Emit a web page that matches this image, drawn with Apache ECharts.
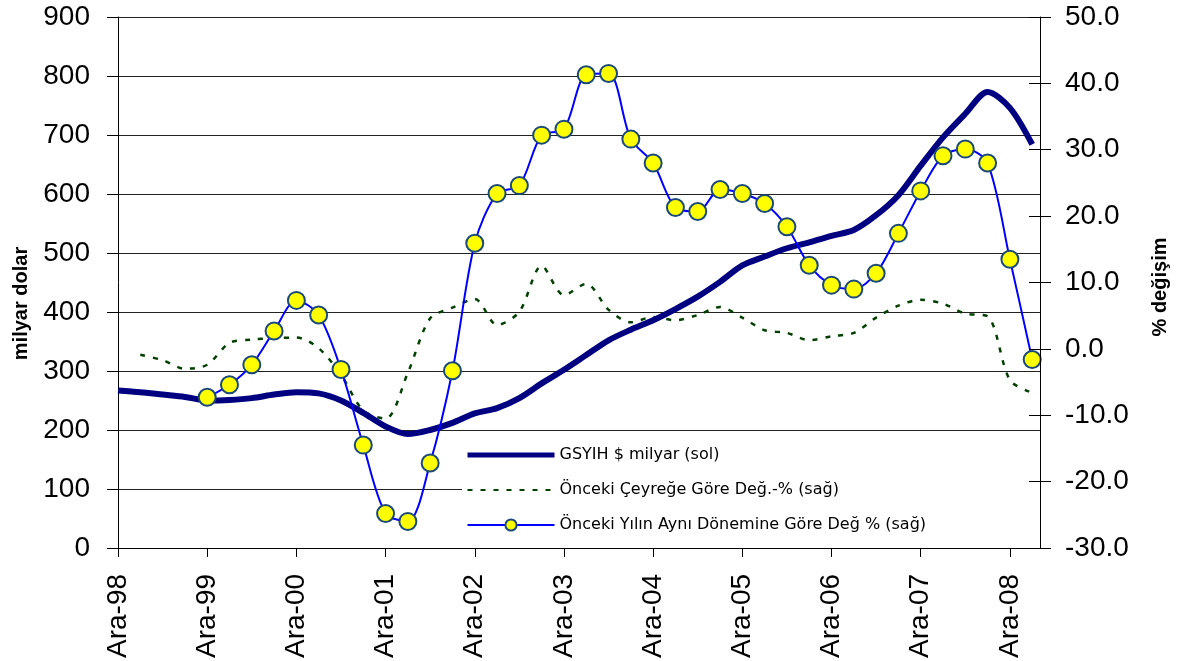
<!DOCTYPE html>
<html>
<head>
<meta charset="utf-8">
<script src="https://cdn.jsdelivr.net/npm/echarts@6/dist/echarts.min.js"></script>
<style>
html,body{margin:0;padding:0;background:#fff;}
#chart{width:1178px;height:661px;}
</style>
</head>
<body>
<div id="chart"></div>
<script>
// Quarterly categories (Ara = December)
const quarters = ['Ara-98','Mar-99','Haz-99','Eyl-99','Ara-99','Mar-00','Haz-00','Eyl-00','Ara-00','Mar-01','Haz-01','Eyl-01','Ara-01','Mar-02','Haz-02','Eyl-02','Ara-02','Mar-03','Haz-03','Eyl-03','Ara-03','Mar-04','Haz-04','Eyl-04','Ara-04','Mar-05','Haz-05','Eyl-05','Ara-05','Mar-06','Haz-06','Eyl-06','Ara-06','Mar-07','Haz-07','Eyl-07','Ara-07','Mar-08','Haz-08','Eyl-08','Ara-08','Mar-09'];
// Tick labels shown on the x axis
const xTickLabels = ['Ara-98','Ara-99','Ara-00','Ara-01','Ara-02','Ara-03','Ara-04','Ara-05','Ara-06','Ara-07','Ara-08'];
// GSYIH $ milyar (sol)
const gdp = [267,264,260,256,250,251,254,260,264,262,250,229,206,193,200,212,228,237,254,279,302,327,352,370,386,405,426,451,479,494,508,518,529,539,564,598,648,696,736,773,746,684];
// Önceki Çeyreğe Göre Değ.-% (sağ)
const qoq = [null,-0.9,-1.7,-3.0,-2.4,0.9,1.4,1.6,1.7,0.1,-3.9,-9.3,-10.5,-3.6,4.6,6.2,7.5,3.6,5.6,12.5,8.1,9.8,5.9,4.0,4.8,4.3,5.1,6.3,4.7,2.8,2.4,1.3,1.9,2.4,4.7,6.5,7.4,6.8,5.3,4.9,-4.7,-6.6];
// Önceki Yılın Aynı Dönemine Göre Değ % (sağ)
const yoy = [null,null,null,null,-7.3,-5.4,-2.4,2.7,7.3,5.1,-3.1,-14.5,-24.8,-26.0,-17.2,-3.3,15.9,23.4,24.6,32.2,33.1,41.3,41.5,31.6,28.0,21.3,20.7,24.0,23.4,21.9,18.4,12.6,9.6,9.0,11.4,17.4,23.8,29.1,30.1,28.0,13.5,-1.6];
const seriesNames = ['GSYIH $ milyar (sol)','Önceki Çeyreğe Göre Değ.-% (sağ)','Önceki Yılın Aynı Dönemine Göre Değ % (sağ)'];

const tickPositions = xTickLabels.map(l => quarters.indexOf(l));
const toPairs = arr => quarters.map((q, i) => [i, arr[i]]);

const font = '"Liberation Sans", Arial, sans-serif';
const chart = echarts.init(document.getElementById('chart'), null, {renderer: 'canvas'});
chart.setOption({
  animation: false,
  backgroundColor: '#ffffff',
  textStyle: {fontFamily: font},
  grid: {left: 118, right: 136, top: 17, bottom: 113, containLabel: false},
  legend: {
    orient: 'vertical',
    left: 462, top: 438,
    padding: [9, 117, 12, 3],
    itemWidth: 87, itemHeight: 14, itemGap: 19,
    backgroundColor: '#ffffff',
    textStyle: {fontFamily: '"DejaVu Sans", sans-serif', fontSize: 16, color: '#000'},
    data: [
      {name: seriesNames[0], itemStyle: {opacity: 0}, lineStyle: {width: 5}},
      {name: seriesNames[1], itemStyle: {opacity: 0}},
      {name: seriesNames[2]}
    ]
  },
  xAxis: {
    type: 'value', min: 0, max: 41.35, interval: 4, z: 5,
    axisLine: {show: true, lineStyle: {color: '#000', width: 1}},
    axisTick: {show: true, length: 9, lineStyle: {color: '#000'}, customValues: tickPositions},
    axisLabel: {customValues: tickPositions, formatter: v => quarters[Math.round(v)], rotate: 90, fontSize: 28, color: '#000', margin: 26, fontFamily: font},
    splitLine: {show: false}
  },
  yAxis: [
    {
      type: 'value', min: 0, max: 900, interval: 100, position: 'left',
      name: 'milyar dolar', nameLocation: 'middle', nameRotate: 90, nameGap: 87,
      nameTextStyle: {fontWeight: 'bold', fontSize: 20, color: '#000', fontFamily: font, padding: [0, 42, 0, 0]},
      axisLine: {show: true, lineStyle: {color: '#000', width: 1}},
      axisTick: {show: true, length: 11, lineStyle: {color: '#000'}},
      axisLabel: {fontSize: 28, color: '#000', margin: 28, fontFamily: font},
      splitLine: {show: true, lineStyle: {color: '#222', width: 1}}
    },
    {
      type: 'value', min: -30, max: 50, interval: 10, position: 'right', z: 5,
      name: '% değişim', nameLocation: 'middle', nameRotate: 90, nameGap: 110,
      nameTextStyle: {fontWeight: 'bold', fontSize: 20, color: '#000', fontFamily: font, padding: [0, 9, 0, 0]},
      axisLine: {show: true, lineStyle: {color: '#000', width: 1}},
      axisTick: {show: true, length: 11, lineStyle: {color: '#000'}},
      axisLabel: {fontSize: 28, color: '#000', margin: 25, fontFamily: font, formatter: v => v.toFixed(1)},
      splitLine: {show: false}
    },
    {
      type: 'value', min: -30, max: 50, interval: 10, position: 'right', z: 5,
      axisLine: {show: false},
      axisTick: {show: true, inside: true, length: 11, lineStyle: {color: '#000'}},
      axisLabel: {show: false},
      splitLine: {show: false}
    }
  ],
  series: [
    {
      name: seriesNames[0], type: 'line', yAxisIndex: 0, data: toPairs(gdp),
      smooth: 0.3, symbol: 'none', z: 3,
      lineStyle: {color: '#000080', width: 6},
      itemStyle: {color: '#000080'}
    },
    {
      name: seriesNames[1], type: 'line', yAxisIndex: 1, data: toPairs(qoq),
      smooth: 0.3, symbol: 'none', z: 2,
      lineStyle: {color: '#004000', width: 2.5, type: [5, 8]},
      itemStyle: {color: '#004000'}
    },
    {
      name: seriesNames[2], type: 'line', yAxisIndex: 1, data: toPairs(yoy),
      smooth: 0.3, symbol: 'circle', symbolSize: 17, showAllSymbol: true, z: 4,
      lineStyle: {color: '#0000ff', width: 2},
      itemStyle: {color: '#ffff00', borderColor: '#1b4a78', borderWidth: 2}
    }
  ]
});
</script>
</body>
</html>
